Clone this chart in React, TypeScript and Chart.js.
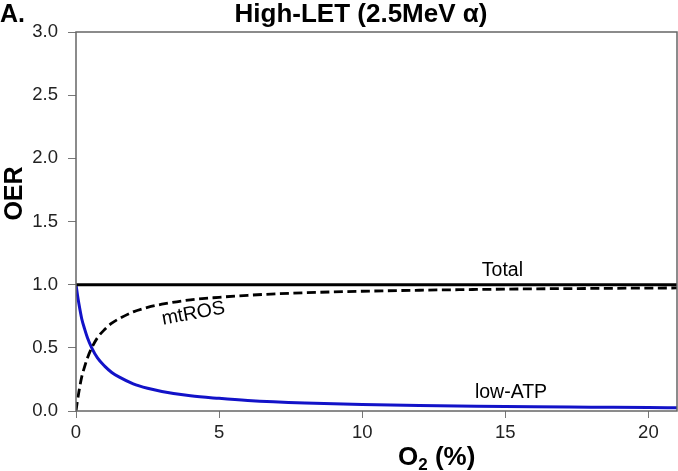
import React, { useEffect, useRef } from "react";
import { Chart, registerables } from "chart.js";

Chart.register(...registerables);

const FONT = '"Liberation Sans", Arial, Helvetica, sans-serif';

// O2 (%) sample positions
const o2Percent = [0, 0.05, 0.1, 0.2, 0.3, 0.4, 0.55, 0.75, 1, 1.25, 1.5, 2, 2.5, 3, 4, 5, 6, 8, 10, 12, 14, 16, 18, 20, 21];
// OER values
const totalOER = [1, 1, 1, 1, 1, 1, 1, 1, 1, 1, 1, 1, 1, 1, 1, 1, 1, 1, 1, 1, 1, 1, 1, 1, 1];
const mtROSOER = [0, 0.08, 0.15, 0.27, 0.35, 0.42, 0.5, 0.58, 0.645, 0.695, 0.73, 0.785, 0.82, 0.845, 0.88, 0.9, 0.916, 0.936, 0.948, 0.956, 0.962, 0.967, 0.97, 0.973, 0.974];
const lowATPOER = [1, 0.92, 0.85, 0.73, 0.65, 0.58, 0.5, 0.42, 0.355, 0.305, 0.27, 0.215, 0.18, 0.155, 0.12, 0.1, 0.084, 0.064, 0.052, 0.044, 0.038, 0.033, 0.03, 0.027, 0.026];

const xTicks = [0, 5, 10, 15, 20];
const yTicks = [0, 0.5, 1, 1.5, 2, 2.5, 3];

const titleText = "High-LET (2.5MeV \u03b1)";
const panelLabel = "A.";
const yTitle = "OER";
const curveLabels = ["Total", "mtROS", "low-ATP"];

const toPoints = (ys: number[]) => o2Percent.map((x, i) => ({ x, y: ys[i] }));

export default function App() {
  const ref = useRef<HTMLCanvasElement | null>(null);

  useEffect(() => {
    document.body.style.margin = "0";
    const canvas = ref.current;
    if (!canvas) return;

    const textPlugin = {
      id: "texts",
      afterDraw(chart: any) {
        const { ctx, chartArea, scales } = chart;
        const xs = scales.x;
        const ys = scales.y;
        ctx.save();
        // frame
        ctx.strokeStyle = "#666";
        ctx.lineWidth = 1.5;
        ctx.strokeRect(chartArea.left, chartArea.top, chartArea.right - chartArea.left, chartArea.bottom - chartArea.top);

        ctx.fillStyle = "#000";
        ctx.textBaseline = "alphabetic";
        // panel label
        ctx.font = `bold 25px ${FONT}`;
        ctx.textAlign = "left";
        ctx.fillText(panelLabel, 0, 22);
        // title
        ctx.font = `bold 26px ${FONT}`;
        ctx.textAlign = "center";
        ctx.fillText(titleText, 361, 22);

        // y title
        ctx.save();
        ctx.translate(22, 193.5);
        ctx.rotate(-Math.PI / 2);
        ctx.font = `bold 25px ${FONT}`;
        ctx.textAlign = "center";
        ctx.fillText(yTitle, 0, 0);
        ctx.restore();

        // x title O2 (%)
        ctx.textAlign = "left";
        let x = 398;
        const base = 465;
        ctx.font = `bold 26px ${FONT}`;
        ctx.fillText("O", x, base);
        x += ctx.measureText("O").width;
        ctx.font = `bold 17px ${FONT}`;
        ctx.fillText("2", x, base + 5);
        x += ctx.measureText("2").width;
        ctx.font = `bold 26px ${FONT}`;
        ctx.fillText(" (%)", x, base);

        // curve labels
        ctx.font = `19.5px ${FONT}`;
        ctx.textAlign = "center";
        ctx.fillText(curveLabels[0], xs.getPixelForValue(14.9), ys.getPixelForValue(1.07));
        ctx.fillText(curveLabels[2], xs.getPixelForValue(15.2), ys.getPixelForValue(0.1));
        ctx.save();
        ctx.translate(xs.getPixelForValue(4.1), ys.getPixelForValue(0.77));
        ctx.rotate((-10.5 * Math.PI) / 180);
        ctx.textBaseline = "middle";
        ctx.fillText(curveLabels[1], 0, 0);
        ctx.restore();
        ctx.restore();
      },
    };

    const chart = new Chart(canvas, {
      type: "line",
      data: {
        datasets: [
          {
            label: "Total",
            data: toPoints(totalOER),
            borderColor: "#000",
            borderWidth: 3,
            pointRadius: 0,
            cubicInterpolationMode: "monotone",
          },
          {
            label: "mtROS",
            data: toPoints(mtROSOER),
            borderColor: "#000",
            borderWidth: 2.8,
            borderDash: [9, 4.5],
            pointRadius: 0,
            cubicInterpolationMode: "monotone",
          },
          {
            label: "low-ATP",
            data: toPoints(lowATPOER),
            borderColor: "#1212c8",
            borderWidth: 3,
            pointRadius: 0,
            cubicInterpolationMode: "monotone",
          },
        ],
      },
      options: {
        responsive: false,
        animation: false,
        events: [],
        layout: { padding: { top: 32, left: 0, right: 1, bottom: 0 } },
        plugins: { legend: { display: false }, tooltip: { enabled: false }, title: { display: false } },
        scales: {
          x: {
            type: "linear",
            min: 0,
            max: 21,
            afterBuildTicks: (axis: any) => {
              axis.ticks = xTicks.map((v) => ({ value: v }));
            },
            afterFit: (axis: any) => {
              axis.height = 60;
            },
            grid: { display: true, drawOnChartArea: false, drawTicks: true, tickLength: 7, color: "#777", lineWidth: 1 },
            border: { display: false },
            ticks: {
              color: "#222",
              font: { family: FONT, size: 18.5 },
              padding: 4,
              maxRotation: 0,
              callback: (v: any) => String(v),
            },
          },
          y: {
            type: "linear",
            min: 0,
            max: 3,
            afterBuildTicks: (axis: any) => {
              axis.ticks = yTicks.map((v) => ({ value: v }));
            },
            afterFit: (axis: any) => {
              axis.width = 76;
            },
            grid: { display: true, drawOnChartArea: false, drawTicks: true, tickLength: 8, color: "#777", lineWidth: 1 },
            border: { display: false },
            ticks: {
              color: "#222",
              font: { family: FONT, size: 18.5 },
              padding: 10,
              callback: (v: any) => Number(v).toFixed(1),
            },
          },
        },
      },
      plugins: [textPlugin],
    } as any);

    return () => chart.destroy();
  }, []);

  return <canvas ref={ref} width={678} height={471} style={{ display: "block" }} />;
}
